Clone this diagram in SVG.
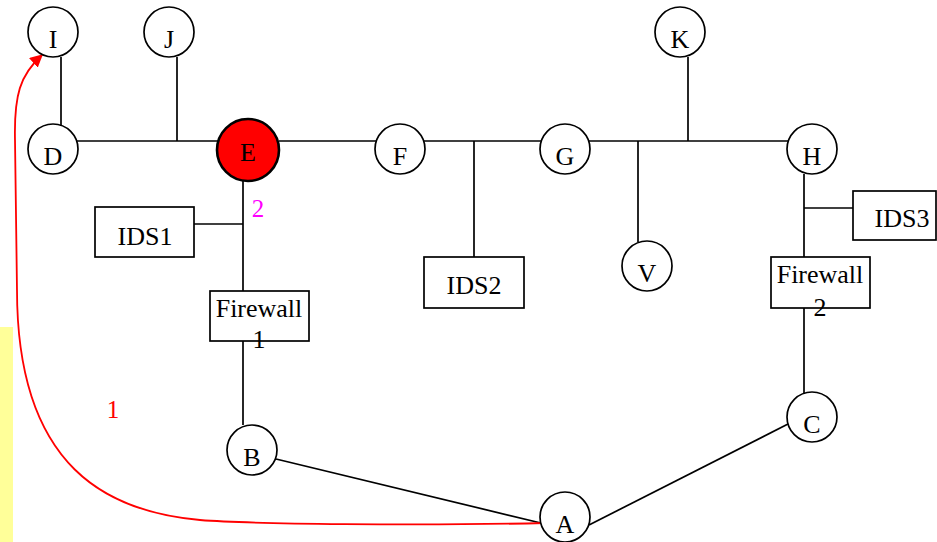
<svg xmlns="http://www.w3.org/2000/svg" width="937" height="542" viewBox="0 0 937 542">
  <style>
    .node { fill: #ffffff; stroke: #000000; stroke-width: 1.7; }
    .hot { fill: #ff0000; stroke: #000000; stroke-width: 2.6; }
    .lbl { font-family: "Liberation Serif", "Times New Roman", serif; font-size: 26px; fill: #000000; text-anchor: middle; }
    .wire { fill: none; stroke: #000000; stroke-width: 1.7; }
    .path1 { fill: none; stroke: #ff0000; stroke-width: 1.8; }
    .red { font-family: "Liberation Serif", "Times New Roman", serif; font-size: 25px; fill: #ff0000; text-anchor: middle; }
    .mag { font-family: "Liberation Serif", "Times New Roman", serif; font-size: 25px; fill: #ff00ff; text-anchor: middle; }
  </style>
  <defs>
    <marker id="arrowRed" viewBox="0 0 10 10" refX="9" refY="5" markerWidth="13" markerHeight="13" markerUnits="userSpaceOnUse" orient="auto">
      <path d="M0,0 L10,5 L0,10 z" fill="#ff0000"/>
    </marker>
  </defs>

  <!-- side bar -->
  <rect x="0" y="327" width="13" height="215" fill="#ffff99"/>

  <!-- links -->
  <g id="connectors">
    <line class="wire" x1="61" y1="57" x2="61" y2="125"/>
    <line class="wire" x1="177" y1="57" x2="177" y2="141"/>
    <line class="wire" x1="77" y1="141" x2="218" y2="141"/>
    <line class="wire" x1="279" y1="141" x2="376" y2="141"/>
    <line class="wire" x1="424" y1="141" x2="541" y2="141"/>
    <line class="wire" x1="589" y1="141" x2="788" y2="141"/>
    <line class="wire" x1="474" y1="141" x2="474" y2="257"/>
    <line class="wire" x1="638" y1="141" x2="638" y2="242"/>
    <line class="wire" x1="688" y1="57" x2="688" y2="141"/>
    <line class="wire" x1="243" y1="181" x2="243" y2="291"/>
    <line class="wire" x1="194" y1="224" x2="243" y2="224"/>
    <line class="wire" x1="243" y1="341" x2="243" y2="425"/>
    <line class="wire" x1="804" y1="174" x2="804" y2="257"/>
    <line class="wire" x1="804" y1="208" x2="853" y2="208"/>
    <line class="wire" x1="804" y1="308" x2="804" y2="393"/>
    <line class="wire" x1="276" y1="459" x2="545" y2="524"/>
    <line class="wire" x1="589" y1="525" x2="788" y2="424"/>
    <path class="path1" d="M545,523 C420,526 250,524 200,520 C110,512 17,470 17,290 L15,140 C14,95 20,75 42,55" marker-end="url(#arrowRed)"/>
    <text class="red" x="113" y="418">1</text>
    <text class="mag" x="258" y="217">2</text>
  </g>

  <g id="I"><circle class="node" cx="53" cy="32" r="25"/><text class="lbl" x="53" y="48">I</text></g>
  <g id="J"><circle class="node" cx="169" cy="32" r="25"/><text class="lbl" x="169" y="48">J</text></g>
  <g id="K"><circle class="node" cx="680" cy="32" r="25"/><text class="lbl" x="680" y="48">K</text></g>
  <g id="D"><circle class="node" cx="53" cy="149" r="25"/><text class="lbl" x="53" y="165">D</text></g>
  <g id="E"><circle class="hot" cx="248" cy="150" r="31"/><text class="lbl" x="248" y="161">E</text></g>
  <g id="F"><circle class="node" cx="400" cy="149" r="25"/><text class="lbl" x="400" y="165">F</text></g>
  <g id="G"><circle class="node" cx="565" cy="149" r="25"/><text class="lbl" x="565" y="165">G</text></g>
  <g id="H"><circle class="node" cx="812" cy="149" r="25"/><text class="lbl" x="812" y="165">H</text></g>
  <g id="V"><circle class="node" cx="647" cy="266" r="25"/><text class="lbl" x="647" y="282">V</text></g>
  <g id="B"><circle class="node" cx="252" cy="450" r="25"/><text class="lbl" x="252" y="466">B</text></g>
  <g id="C"><circle class="node" cx="812" cy="417" r="25"/><text class="lbl" x="812" y="433">C</text></g>
  <g id="A"><circle class="node" cx="565" cy="517" r="25"/><text class="lbl" x="565" y="533">A</text></g>

  <g id="IDS1"><rect class="node" x="95" y="207" width="99" height="50"/><text class="lbl" x="145" y="245">IDS1</text></g>
  <g id="IDS2"><rect class="node" x="424" y="257" width="100" height="51"/><text class="lbl" x="474" y="294">IDS2</text></g>
  <g id="IDS3"><rect class="node" x="853" y="191" width="83" height="49"/><text class="lbl" x="902" y="227">IDS3</text></g>
  <g id="Firewall1"><rect class="node" x="210" y="291" width="99" height="50"/><text class="lbl" x="259" y="317">Firewall</text><text class="lbl" x="259" y="348">1</text></g>
  <g id="Firewall2"><rect class="node" x="771" y="257" width="99" height="51"/><text class="lbl" x="820" y="283">Firewall</text><text class="lbl" x="820" y="316">2</text></g>
</svg>
